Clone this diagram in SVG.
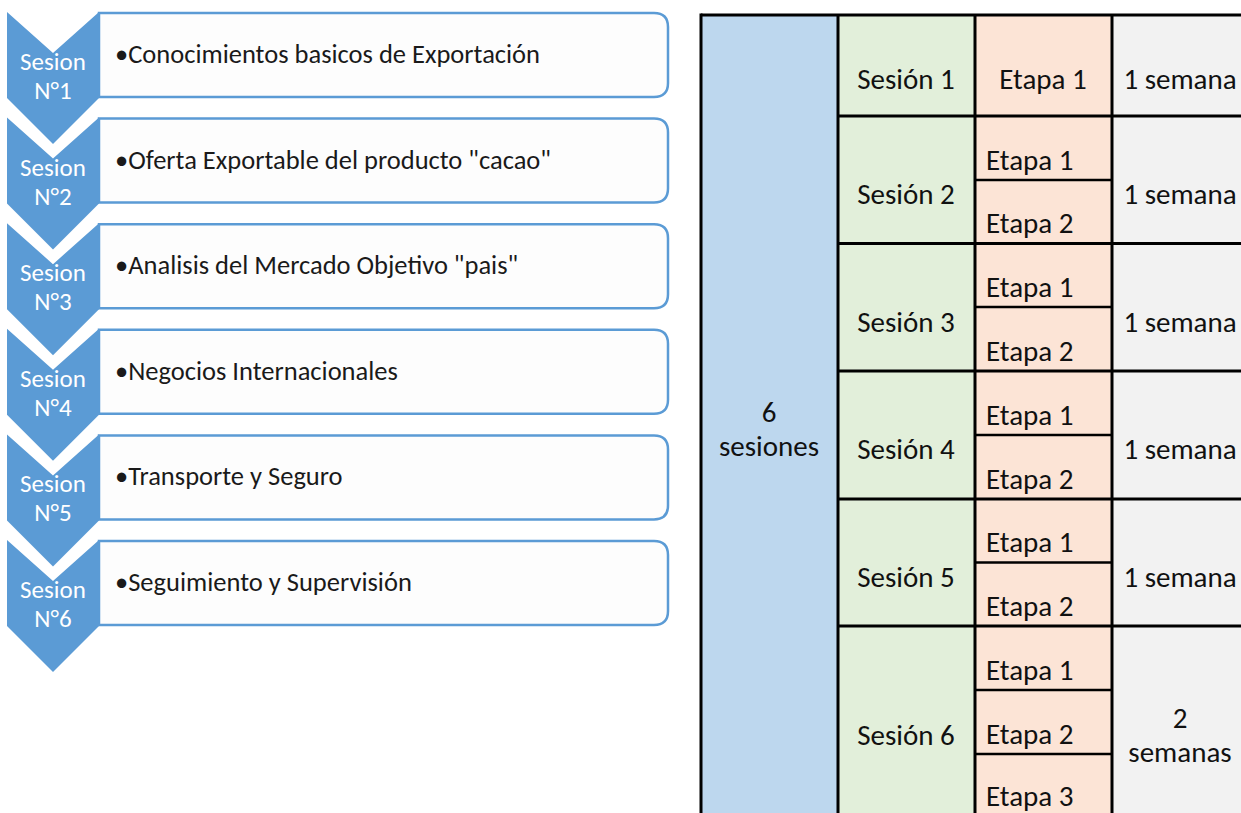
<svg xmlns="http://www.w3.org/2000/svg" width="1241" height="813" viewBox="0 0 1241 813">
<style>
.chev{fill:#5B9BD5}
.box{fill:#FDFDFD;stroke:#5B9BD5;stroke-width:2.5}
.ct{font-family:Carlito,Lato,sans-serif;font-size:25px;fill:#FFFFFF;text-anchor:middle}
.bt{font-family:Carlito,Lato,sans-serif;font-size:26.5px;fill:#1A1A1A}
.tt{font-family:Carlito,Lato,sans-serif;font-size:29px;fill:#111111}
.mid{text-anchor:middle}
.ln{stroke:#000;stroke-width:3}
.ln2{stroke:#000;stroke-width:2.5}
</style>
<rect width="1241" height="813" fill="#FFFFFF"/>
<g id="list">
<g id="s1">
<path class="box" d="M99,13 H654 Q668,13 668,27 V83 Q668,97 654,97 H99 Z"/>
<path class="chev" d="M7,12 L53,53 L99,12 V98 L53,144 L7,98 Z"/>
<text class="ct" x="53" y="70">Sesion</text><text class="ct" x="53" y="99">N°1</text>
<text class="bt" x="115" y="63">•Conocimientos basicos de Exportación</text>
</g>
<g id="s2" transform="translate(0,105.6)">
<path class="box" d="M99,13 H654 Q668,13 668,27 V83 Q668,97 654,97 H99 Z"/>
<path class="chev" d="M7,12 L53,53 L99,12 V98 L53,144 L7,98 Z"/>
<text class="ct" x="53" y="70">Sesion</text><text class="ct" x="53" y="99">N°2</text>
<text class="bt" x="115" y="63">•Oferta Exportable del producto "cacao"</text>
</g>
<g id="s3" transform="translate(0,211.2)">
<path class="box" d="M99,13 H654 Q668,13 668,27 V83 Q668,97 654,97 H99 Z"/>
<path class="chev" d="M7,12 L53,53 L99,12 V98 L53,144 L7,98 Z"/>
<text class="ct" x="53" y="70">Sesion</text><text class="ct" x="53" y="99">N°3</text>
<text class="bt" x="115" y="63">•Analisis del Mercado Objetivo "pais"</text>
</g>
<g id="s4" transform="translate(0,316.8)">
<path class="box" d="M99,13 H654 Q668,13 668,27 V83 Q668,97 654,97 H99 Z"/>
<path class="chev" d="M7,12 L53,53 L99,12 V98 L53,144 L7,98 Z"/>
<text class="ct" x="53" y="70">Sesion</text><text class="ct" x="53" y="99">N°4</text>
<text class="bt" x="115" y="63">•Negocios Internacionales</text>
</g>
<g id="s5" transform="translate(0,422.4)">
<path class="box" d="M99,13 H654 Q668,13 668,27 V83 Q668,97 654,97 H99 Z"/>
<path class="chev" d="M7,12 L53,53 L99,12 V98 L53,144 L7,98 Z"/>
<text class="ct" x="53" y="70">Sesion</text><text class="ct" x="53" y="99">N°5</text>
<text class="bt" x="115" y="63">•Transporte y Seguro</text>
</g>
<g id="s6" transform="translate(0,528)">
<path class="box" d="M99,13 H654 Q668,13 668,27 V83 Q668,97 654,97 H99 Z"/>
<path class="chev" d="M7,12 L53,53 L99,12 V98 L53,144 L7,98 Z"/>
<text class="ct" x="53" y="70">Sesion</text><text class="ct" x="53" y="99">N°6</text>
<text class="bt" x="115" y="63">•Seguimiento y Supervisión</text>
</g>
</g>
<g id="table">
<rect x="701" y="15" width="137" height="800" fill="#BDD7EE"/>
<rect x="838" y="15" width="137" height="800" fill="#E2EFDA"/>
<rect x="975" y="15" width="137" height="800" fill="#FCE4D6"/>
<rect x="1112" y="15" width="140" height="800" fill="#F2F2F2"/>
<g id="grid">
<line class="ln" x1="701" y1="15" x2="1241" y2="15"/>
<line class="ln" x1="701" y1="13.5" x2="701" y2="813"/>
<line class="ln" x1="838" y1="15" x2="838" y2="813"/>
<line class="ln" x1="975" y1="15" x2="975" y2="813"/>
<line class="ln" x1="1112" y1="15" x2="1112" y2="813"/>
<line class="ln" x1="838" y1="116" x2="1241" y2="116"/>
<line class="ln" x1="838" y1="243.5" x2="1241" y2="243.5"/>
<line class="ln" x1="838" y1="371" x2="1241" y2="371"/>
<line class="ln" x1="838" y1="499" x2="1241" y2="499"/>
<line class="ln" x1="838" y1="626" x2="1241" y2="626"/>
<line class="ln2" x1="975" y1="180" x2="1112" y2="180"/>
<line class="ln2" x1="975" y1="307" x2="1112" y2="307"/>
<line class="ln2" x1="975" y1="435" x2="1112" y2="435"/>
<line class="ln2" x1="975" y1="562.5" x2="1112" y2="562.5"/>
<line class="ln2" x1="975" y1="690" x2="1112" y2="690"/>
<line class="ln2" x1="975" y1="754" x2="1112" y2="754"/>
</g>
<g id="c-total"><text class="tt mid" x="769" y="422">6</text><text class="tt mid" x="769" y="456">sesiones</text></g>
<g id="r1">
<text class="tt mid" x="906" y="89">Sesión 1</text>
<text class="tt mid" x="1043" y="89">Etapa 1</text>
<text class="tt mid" x="1180" y="89">1 semana</text>
</g>
<g id="r2">
<text class="tt mid" x="906" y="204">Sesión 2</text>
<text class="tt" x="986" y="170">Etapa 1</text>
<text class="tt" x="986" y="233">Etapa 2</text>
<text class="tt mid" x="1180" y="204">1 semana</text>
</g>
<g id="r3">
<text class="tt mid" x="906" y="332">Sesión 3</text>
<text class="tt" x="986" y="297">Etapa 1</text>
<text class="tt" x="986" y="361">Etapa 2</text>
<text class="tt mid" x="1180" y="332">1 semana</text>
</g>
<g id="r4">
<text class="tt mid" x="906" y="459">Sesión 4</text>
<text class="tt" x="986" y="425">Etapa 1</text>
<text class="tt" x="986" y="489">Etapa 2</text>
<text class="tt mid" x="1180" y="459">1 semana</text>
</g>
<g id="r5">
<text class="tt mid" x="906" y="587">Sesión 5</text>
<text class="tt" x="986" y="552">Etapa 1</text>
<text class="tt" x="986" y="616">Etapa 2</text>
<text class="tt mid" x="1180" y="587">1 semana</text>
</g>
<g id="r6">
<text class="tt mid" x="906" y="745">Sesión 6</text>
<text class="tt" x="986" y="680">Etapa 1</text>
<text class="tt" x="986" y="744">Etapa 2</text>
<text class="tt" x="986" y="806">Etapa 3</text>
<text class="tt mid" x="1180" y="728">2</text>
<text class="tt mid" x="1180" y="762">semanas</text>
</g>
</g>
</svg>
